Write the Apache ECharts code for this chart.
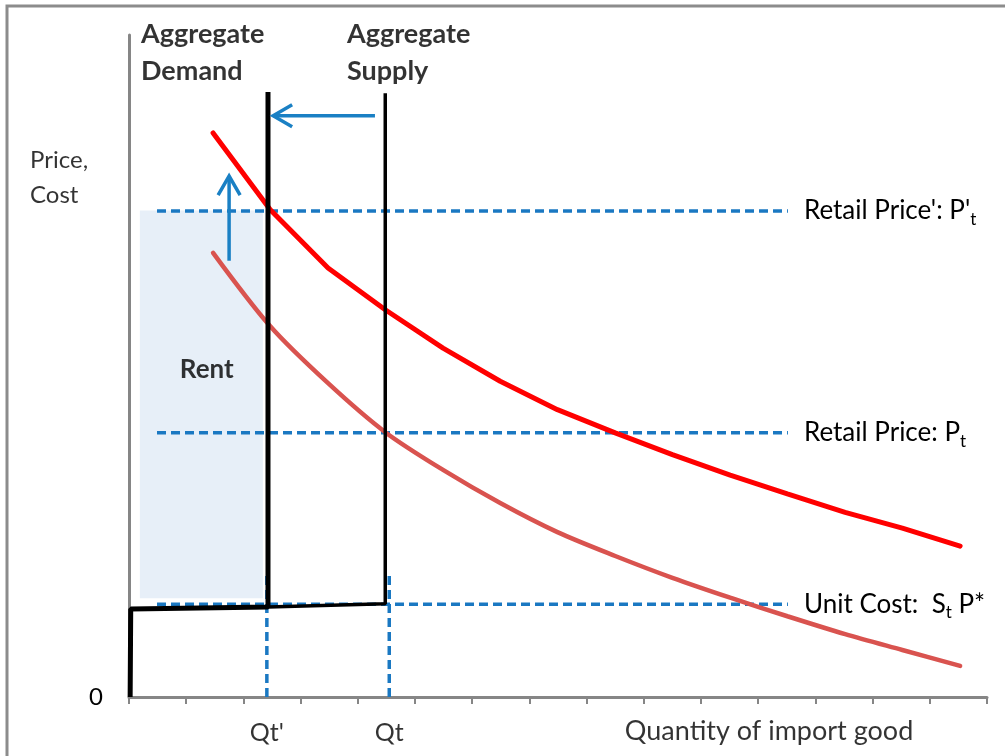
<!DOCTYPE html>
<html>
<head>
<meta charset="utf-8">
<title>Quota rent</title>
<script src="https://cdn.jsdelivr.net/npm/echarts@6/dist/echarts.min.js"></script>
<style>
html, body { margin: 0; padding: 0; background: #fff; }
#chart { width: 1005px; height: 756px; }
</style>
</head>
<body>
<div id="chart"></div>
<script>
// quantity positions of the curve points
const curveX = [1.47, 2.47, 3.48, 4.48, 5.49, 6.49, 7.49, 8.50, 9.50, 10.51, 11.51, 12.52, 13.52, 14.53]
// price on the shifted (red) curve and the original curve
const priceNew = [85.2, 73.6, 64.8, 58.5, 52.7, 47.7, 43.4, 39.9, 36.6, 33.5, 30.7, 27.9, 25.5, 22.8]
const priceOld = [67.1, 56.0, 47.4, 40.0, 34.3, 29.3, 24.9, 21.3, 18.0, 15.0, 12.2, 9.5, 7.1, 4.7]

// horizontal price levels
const levelNames = ["Retail Price': P't", 'Retail Price: Pt', 'Unit Cost:  St P*']
const levelValues = [73.4, 39.9, 14.0]
const levelFromX = 0.49
const levelToX = 11.52

// quantities
const qtNew = 2.41
const qtOld = 4.55
const qtLabels = ["Qt'", 'Qt']

// black lines: the thick one (new quota) and the thin one (old quota)
const demandLine = [[0.02, 0], [0.03, 13.3], [2.43, 13.6], [2.43, 91.4]]
const supplyLine = [[2.43, 13.6], [4.48, 14.1], [4.48, 91.2]]

// rent box corners
const rentBox = [[0.19, 73.5], [2.34, 14.9]]

// arrows: [x1, y1, x2, y2]
const arrows = [[1.75, 65.9, 1.75, 78.7], [4.30, 87.8, 2.52, 87.8]]

const blue = '#1a78c2'
const font = 'Lato'

let chart = echarts.init(document.getElementById('chart'))

function levelLabel(i) {
  if (i === 0) return "{m|Retail Price': P'}{s|t}"
  if (i === 1) return '{m|Retail Price: P}{s|t}'
  return '{m|Unit Cost:  S}{s|t}{m| P*}'
}

let levelSeries = levelValues.map(function (v, i) {
  return {
    name: levelNames[i],
    type: 'line',
    data: [[levelFromX, v], [levelToX, v]],
    showSymbol: false,
    lineStyle: { color: blue, width: 3.5, type: [9, 5] },
    endLabel: {
      show: true,
      distance: 16,
      formatter: function () { return levelLabel(i) },
      rich: {
        m: { fontFamily: font, fontSize: 26, color: '#000', lineHeight: 32 },
        s: { fontFamily: font, fontSize: 17, color: '#000', lineHeight: 34, verticalAlign: 'bottom' }
      }
    },
    z: 2
  }
})

let qtSeries = [qtNew, qtOld].map(function (q) {
  return {
    type: 'line',
    data: [[q, 0], [q, 18.9]],
    showSymbol: false,
    lineStyle: { color: blue, width: 3.5, type: [9, 5] },
    z: 2
  }
})

function textItem(x, y, text, label) {
  return { value: [x, y], label: Object.assign({ show: true, formatter: text, fontFamily: font, color: '#000' }, label) }
}

let option = {
  animation: false,
  backgroundColor: '#fff',
  grid: { left: 129, right: 18, top: 35, bottom: 59, outerBoundsMode: 'none' },
  xAxis: {
    type: 'value',
    min: 0,
    max: 15,
    interval: 1,
    axisLine: { lineStyle: { color: '#868686', width: 3 } },
    axisTick: { show: true, length: 7, lineStyle: { color: '#868686', width: 2 } },
    axisLabel: { show: false },
    splitLine: { show: false }
  },
  yAxis: {
    type: 'value',
    min: 0,
    max: 100,
    interval: 100,
    axisLine: { show: true, lineStyle: { color: '#868686', width: 3 } },
    axisTick: { show: false },
    axisLabel: {
      formatter: function (v) { return v === 0 ? '0' : '' },
      margin: 26,
      fontFamily: font,
      fontSize: 24,
      color: '#000'
    },
    splitLine: { show: false }
  },
  graphic: [{
    type: 'rect',
    shape: { x: 7, y: 6, width: 1100, height: 900 },
    style: { fill: null, stroke: '#8c8c8c', lineWidth: 3 },
    silent: true
  }],
  series: [
    {
      type: 'line',
      data: [],
      markArea: {
        silent: true,
        itemStyle: { color: '#e7eff8' },
        data: [[{ coord: rentBox[0] }, { coord: rentBox[1] }]]
      },
      z: 1
    }
  ].concat(levelSeries, qtSeries, [
    {
      name: 'old',
      type: 'line',
      data: curveX.map(function (x, i) { return [x, priceOld[i]] }),
      showSymbol: false,
      smooth: 0.3,
      lineStyle: { color: '#d9534f', width: 4.5, cap: 'round' },
      z: 3
    },
    {
      name: 'new',
      type: 'line',
      data: curveX.map(function (x, i) { return [x, priceNew[i]] }),
      showSymbol: false,
      lineStyle: { color: '#ff0000', width: 5, cap: 'round' },
      z: 3
    },
    {
      type: 'line',
      data: demandLine,
      showSymbol: false,
      lineStyle: { color: '#000', width: 5 },
      z: 4
    },
    {
      type: 'line',
      data: supplyLine,
      showSymbol: false,
      lineStyle: { color: '#000', width: 3.5 },
      z: 4
    },
    {
      type: 'custom',
      data: arrows,
      encode: { x: [0, 2], y: [1, 3] },
      renderItem: function (params, api) {
        let a = api.coord([api.value(0), api.value(1)])
        let b = api.coord([api.value(2), api.value(3)])
        let dx = b[0] - a[0], dy = b[1] - a[1]
        let len = Math.sqrt(dx * dx + dy * dy)
        let ux = dx / len, uy = dy / len
        let back = 19, half = 11
        let p1 = [b[0] - ux * back - uy * half, b[1] - uy * back + ux * half]
        let p2 = [b[0] - ux * back + uy * half, b[1] - uy * back - ux * half]
        let st = { stroke: '#1a80c4', lineWidth: 3.5, fill: null }
        return {
          type: 'group',
          children: [
            { type: 'polyline', shape: { points: [a, b] }, style: st },
            { type: 'polyline', shape: { points: [p1, b, p2] }, style: st }
          ]
        }
      },
      z: 5
    },
    {
      type: 'scatter',
      symbolSize: 0,
      clip: false,
      silent: true,
      data: [
        textItem(0.21, 97.3, 'Aggregate\nDemand', { position: 'right', distance: 0, fontSize: 27, fontWeight: 'bold', lineHeight: 37 }),
        textItem(3.81, 97.3, 'Aggregate\nSupply', { position: 'right', distance: 0, fontSize: 27, fontWeight: 'bold', lineHeight: 37 }),
        textItem(1.36, 49.5, 'Rent', { position: 'inside', fontSize: 26, fontWeight: 'bold' }),
        textItem(-1.73, 78.4, 'Price,\nCost', { position: 'right', distance: 0, fontSize: 24, lineHeight: 35 }),
        textItem(qtNew, 0, qtLabels[0], { position: 'bottom', distance: 23, fontSize: 25 }),
        textItem(qtOld, 0, qtLabels[1], { position: 'bottom', distance: 23, fontSize: 25 }),
        textItem(11.19, 0, 'Quantity of import good', { position: 'bottom', distance: 21, fontSize: 27 })
      ],
      z: 6
    }
  ])
}

chart.setOption(option)
window.addEventListener('resize', () => {
  chart.resize()
})
</script>
</body>
</html>
